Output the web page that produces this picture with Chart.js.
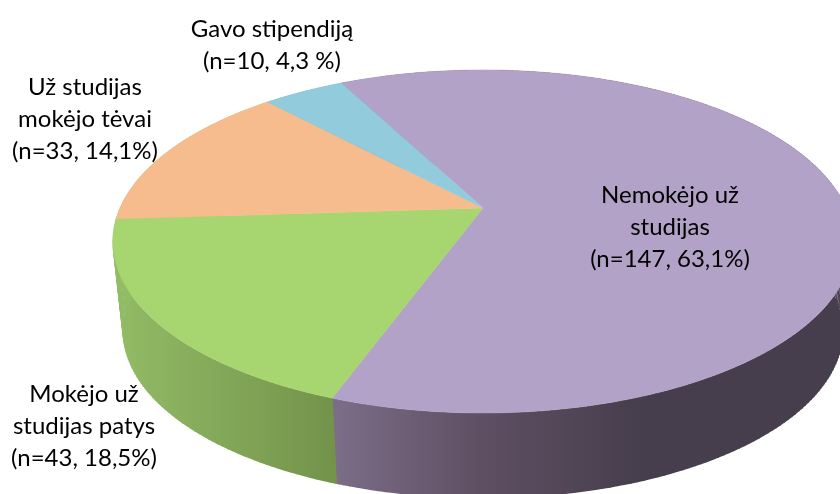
<!DOCTYPE html>
<html>
<head>
<meta charset="utf-8">
<title>Pie</title>
<script src="https://cdn.jsdelivr.net/npm/chart.js@4"></script>
<style>
    html, body { margin: 0; padding: 0; background: #fff; overflow: hidden; }
    canvas { display: block; }
</style>
</head>
<body>
<canvas id="pie" width="840" height="494"></canvas>
<script>
// data, clockwise from the purple slice
const categories = ['Nemokėjo už studijas', 'Mokėjo už studijas patys', 'Už studijas mokėjo tėvai', 'Gavo stipendiją'];
const values = [147, 43, 33, 10];
const labelLines = [
    ['Nemokėjo už', 'studijas', '(n=147, 63,1%)'],
    ['Mokėjo už', 'studijas patys', '(n=43, 18,5%)'],
    ['Už studijas', 'mokėjo tėvai', '(n=33, 14,1%)'],
    ['Gavo stipendiją', '(n=10, 4,3 %)']
];

// styles
const topColors = ['#B2A2C7', '#A7D56F', '#F7BC8D', '#92CBDC'];
const wallStops = [
    [[333, '#7C6E88'], [480, '#5F4F63'], [640, '#463E4C'], [840, '#463E4C']],
    [[113, '#93BC66'], [333, '#73934B']],
    [[113, '#93BC66'], [333, '#93BC66']],
    [[113, '#7AA9B8'], [333, '#7AA9B8']]
];
const labelAnchors = [[670, 195], [84, 394], [85, 87], [272, 29]];
const lineGap = 32;

// perspective of the tilted disc: top face and bottom face
const topFace = { cx: 483, cy: 208, a: 363, b: 165, k: 0.195 };
const bottomFace = { cx: 483, cy: 299, a: 353, b: 160.5, k: 0.195 };

const project = (face, angle) => {
    const u = Math.cos(angle), v = Math.sin(angle);
    const w = 1 - face.k * v;
    return [face.cx + face.a * u / w, face.cy + face.b * v / w];
};

const arcPoints = (face, start, end) => {
    const pts = [];
    const steps = Math.max(2, Math.ceil((end - start) / (Math.PI / 180)));
    for (let i = 0; i <= steps; i++) {
        pts.push(project(face, start + (end - start) * i / steps));
    }
    return pts;
};

const drawTop = function (ctx) {
    const color = this.options.backgroundColor;
    ctx.save();
    ctx.beginPath();
    ctx.moveTo(topFace.cx, topFace.cy);
    arcPoints(topFace, this.startAngle, this.endAngle).forEach(p => ctx.lineTo(p[0], p[1]));
    ctx.closePath();
    ctx.fillStyle = color;
    ctx.strokeStyle = color;
    ctx.lineWidth = 0.5;
    ctx.fill();
    ctx.stroke();
    ctx.restore();
};

const pie3d = {
    id: 'pie3d',
    beforeDatasetsDraw(chart) {
        const ctx = chart.ctx;
        chart.getDatasetMeta(0).data.forEach((arc, i) => {
            const stops = wallStops[i];
            const first = stops[0][0], last = stops[stops.length - 1][0];
            const grad = ctx.createLinearGradient(first, 0, last, 0);
            stops.forEach(s => grad.addColorStop((s[0] - first) / (last - first), s[1]));
            const upper = arcPoints(topFace, arc.startAngle, arc.endAngle);
            const lower = arcPoints(bottomFace, arc.startAngle, arc.endAngle);
            ctx.beginPath();
            upper.concat(lower.slice().reverse()).forEach((p, j) => j ? ctx.lineTo(p[0], p[1]) : ctx.moveTo(p[0], p[1]));
            ctx.closePath();
            ctx.fillStyle = grad;
            ctx.fill();
            // the outline alone misses the silhouette next to the widest point
            ctx.beginPath();
            upper.forEach((p, j) => {
                ctx.moveTo(p[0], p[1]);
                ctx.lineTo(lower[j][0], lower[j][1]);
            });
            ctx.strokeStyle = grad;
            ctx.lineWidth = 1;
            ctx.stroke();
            arc.draw = drawTop;
        });
    },
    afterDatasetsDraw(chart) {
        const ctx = chart.ctx;
        ctx.save();
        ctx.font = '24px Lato, "Open Sans", sans-serif';
        ctx.fillStyle = '#000';
        ctx.textAlign = 'center';
        ctx.textBaseline = 'middle';
        labelLines.forEach((lines, i) => {
            lines.forEach((line, j) => {
                ctx.fillText(line, labelAnchors[i][0], labelAnchors[i][1] + j * lineGap);
            });
        });
        ctx.restore();
    }
};

new Chart(document.getElementById('pie').getContext('2d'), {
    type: 'pie',
    data: {
        labels: categories,
        datasets: [{ data: values, backgroundColor: topColors, borderWidth: 0 }]
    },
    options: {
        responsive: false,
        animation: false,
        rotation: -27.3,
        events: [],
        plugins: { legend: { display: false }, tooltip: { enabled: false } }
    },
    plugins: [pie3d]
});
</script>
</body>
</html>
